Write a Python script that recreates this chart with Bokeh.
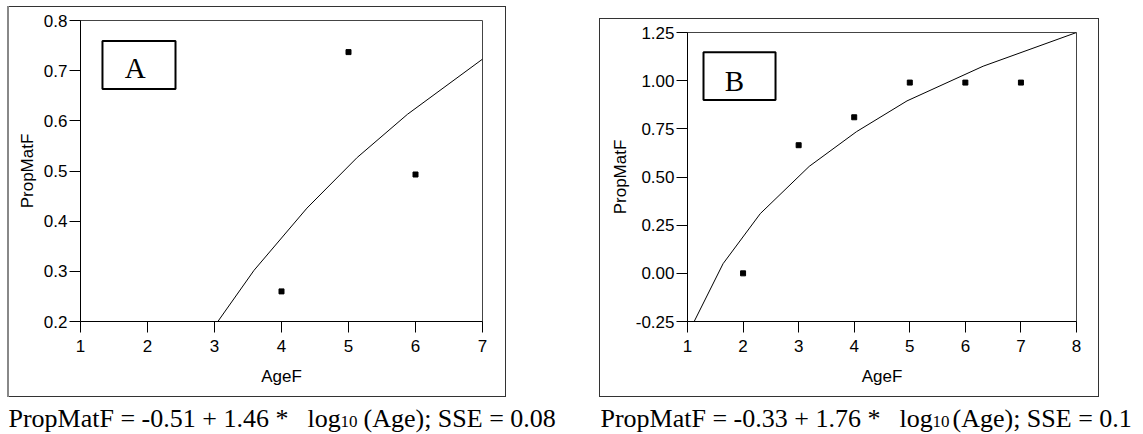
from bokeh.plotting import figure
from bokeh.layouts import row, column
from bokeh.models import Range1d, FixedTicker, NumeralTickFormatter, GlobalInlineStyleSheet
from bokeh.core.properties import value
from bokeh.embed import file_html
from bokeh.resources import INLINE

# ---------------- data ----------------
A_AGE = [4, 5, 6]
A_PROP = [0.26, 0.737, 0.493]
A_FIT_X = [3.05, 3.59, 4.38, 5.13, 5.88, 7.0]
A_FIT_Y = [0.200, 0.302, 0.426, 0.527, 0.613, 0.723]
A_XTICKS = [1, 2, 3, 4, 5, 6, 7]
A_YTICKS = [0.2, 0.3, 0.4, 0.5, 0.6, 0.7, 0.8]

B_AGE = [2, 3, 4, 5, 6, 7]
B_PROP = [0.0, 0.665, 0.81, 0.99, 0.99, 0.99]
B_FIT_X = [1.12, 1.64, 2.31, 3.19, 4.04, 4.95, 6.32, 8.0]
B_FIT_Y = [-0.25, 0.05, 0.31, 0.555, 0.735, 0.895, 1.075, 1.25]
B_XTICKS = [1, 2, 3, 4, 5, 6, 7, 8]
B_YTICKS = [-0.25, 0.0, 0.25, 0.5, 0.75, 1.0, 1.25]

CAP_A = ["PropMatF = -0.51 + 1.46 *", "log", "10", "(Age); SSE = 0.08"]
CAP_B = ["PropMatF = -0.33 + 1.76 *", "log", "10", "(Age); SSE = 0.1"]

SANS = "Liberation Sans"
SERIF = "Liberation Serif"


def style(p, xticks, yticks, yfmt, ystand):
    p.xaxis.ticker = FixedTicker(ticks=xticks)
    p.yaxis.ticker = FixedTicker(ticks=yticks)
    p.yaxis.formatter = NumeralTickFormatter(format=yfmt)
    p.xaxis.formatter = NumeralTickFormatter(format="0")
    for ax in (p.xaxis[0], p.yaxis[0]):
        ax.axis_line_color = "black"
        ax.major_tick_line_color = "black"
        ax.major_tick_out = 11
        ax.major_tick_in = 0
        ax.minor_tick_line_color = None
        ax.major_label_text_font = SANS
        ax.major_label_text_font_size = "17px"
        ax.major_label_text_color = "black"
        ax.axis_label_text_font = SANS
        ax.axis_label_text_font_size = "17px"
        ax.axis_label_text_font_style = "normal"
        ax.axis_label_text_color = "black"
    p.xaxis.major_label_standoff = 7
    p.yaxis.major_label_standoff = 2
    p.xaxis.axis_label = "AgeF"
    p.yaxis.axis_label = "PropMatF"
    p.xaxis.axis_label_standoff = 12
    p.yaxis.axis_label_standoff = ystand
    p.grid.visible = False
    p.outline_line_color = "#444"
    p.outline_line_width = 1
    p.border_fill_color = None
    p.background_fill_color = None


FRAME_A = {"box-shadow": "inset 2px 0 0 0 #888, inset 0 0 0 1px #333", "background": "white"}
FRAME_B = {"box-shadow": "inset 0 0 0 1px #333", "background": "white"}

# ---------------- panel A ----------------
pa = figure(width=499, height=391, output_backend="svg", toolbar_location=None,
            x_range=Range1d(1, 7), y_range=Range1d(0.2, 0.8),
            min_border_left=73, min_border_right=24, min_border_top=14, min_border_bottom=76,
            styles=FRAME_A, margin=(6, 0, 0, 7))
style(pa, A_XTICKS, A_YTICKS, "0.0", 4)
pa.line(A_FIT_X, A_FIT_Y, line_color="black", line_width=1)
pa.scatter(A_AGE, A_PROP, marker="square", size=5, color="black")
pa.quad(left=[1.328], right=[2.418], bottom=[0.6635], top=[0.759],
        fill_color=None, line_color="black", line_width=2)
pa.text(x=[1.816], y=[0.705], text=["A"], text_font=value(SERIF), text_font_size="29px",
        text_align="center", text_baseline="middle", text_color="black")

# ---------------- panel B ----------------
pb = figure(width=500, height=379, output_backend="svg", toolbar_location=None,
            x_range=Range1d(1, 8), y_range=Range1d(-0.25, 1.25),
            min_border_left=88, min_border_right=23, min_border_top=13, min_border_bottom=74,
            styles=FRAME_B, margin=(18, 44, 0, 93))
style(pb, B_XTICKS, B_YTICKS, "0.00", 3)
pb.line(B_FIT_X, B_FIT_Y, line_color="black", line_width=1)
pb.scatter(B_AGE, B_PROP, marker="square", size=5, color="black")
pb.quad(left=[1.288], right=[2.584], bottom=[0.900], top=[1.147],
        fill_color=None, line_color="black", line_width=2)
pb.text(x=[1.846], y=[1.0], text=["B"], text_font=value(SERIF), text_font_size="29px",
        text_align="center", text_baseline="middle", text_color="black")

# ---------------- captions ----------------
CAP_H = 37
cap = figure(width=1143, height=CAP_H, output_backend="svg", toolbar_location=None,
             x_range=Range1d(0, 1143), y_range=Range1d(CAP_H, 0),
             min_border=0)
cap.axis.visible = False
cap.grid.visible = False
cap.outline_line_color = None


def caption(parts, xs):
    for i, (t, x) in enumerate(zip(parts, xs)):
        sub = (i == 2)
        cap.text(x=[x], y=[24.0 if sub else 20.5], text=[t], text_font=value(SERIF),
                 text_font_size="17px" if sub else "26px", text_align="left",
                 text_baseline="middle", text_color="black")


caption(CAP_A, [8, 307, 340, 363])
caption(CAP_B, [600, 899, 932, 952])

layout = column(row(pa, pb), cap,
                stylesheets=[GlobalInlineStyleSheet(css="html, body { overflow: hidden; }")])

open("out.html", "w").write(file_html(layout, INLINE))
